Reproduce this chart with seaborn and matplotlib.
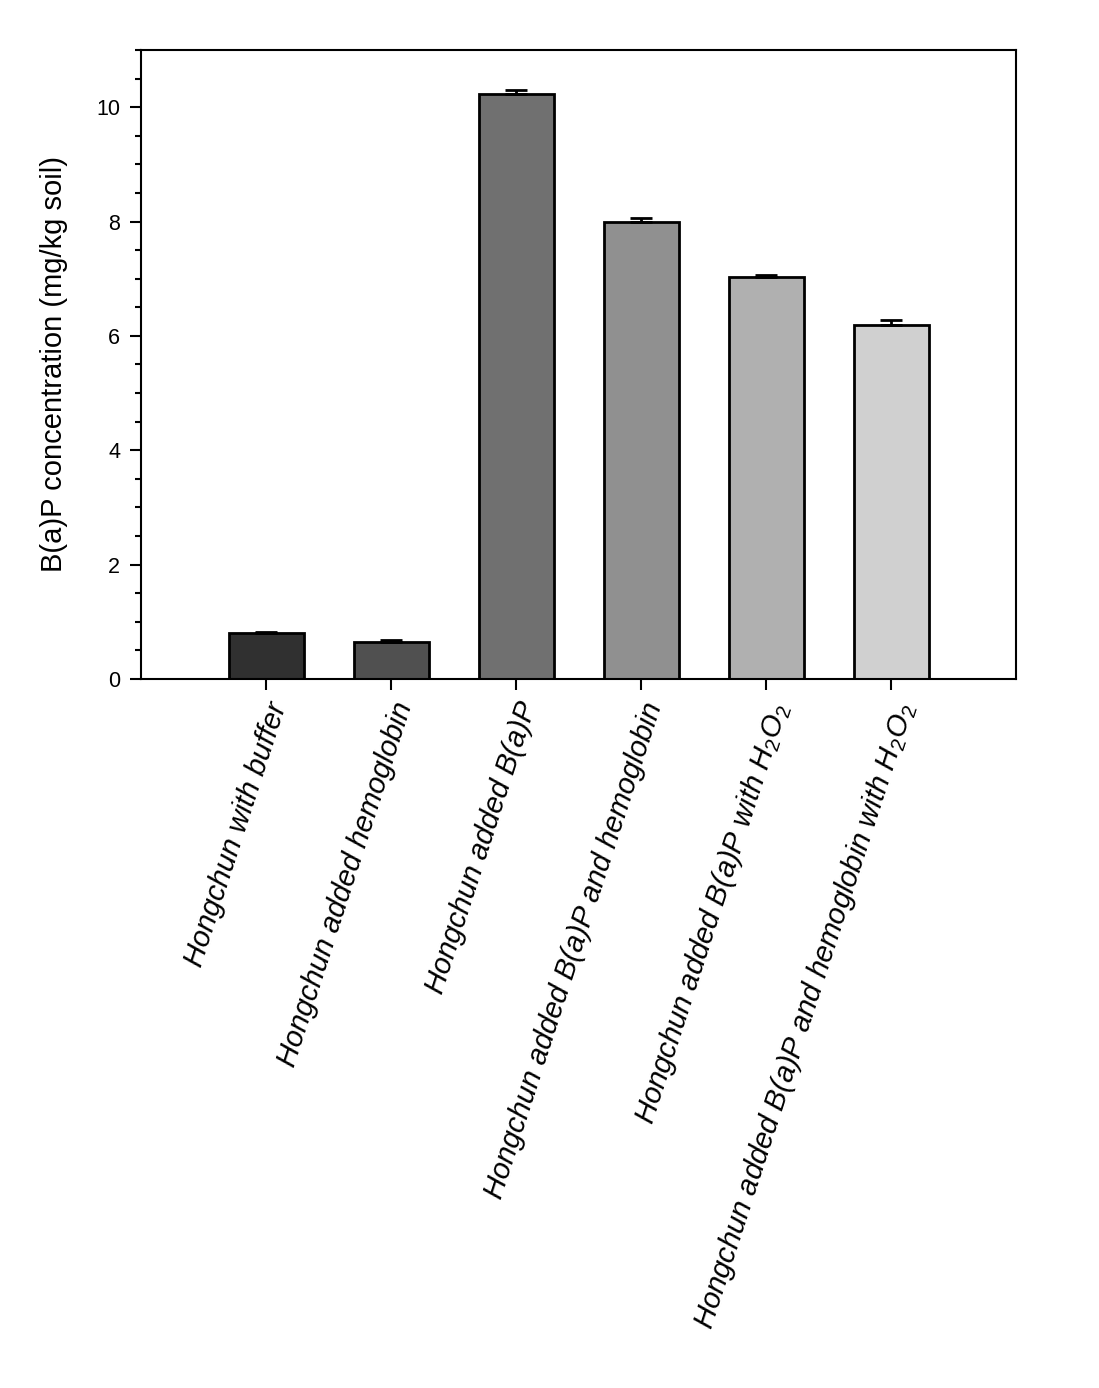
import matplotlib
matplotlib.use("Agg")
import matplotlib.pyplot as plt
import seaborn as sns
import pandas as pd
import numpy as np
from matplotlib.ticker import MultipleLocator

categories = [
    "Hongchun with buffer",
    "Hongchun added hemoglobin",
    "Hongchun added B(a)P",
    "Hongchun added B(a)P and hemoglobin",
    "Hongchun added B(a)P with H$_2$O$_2$",
    "Hongchun added B(a)P and hemoglobin with H$_2$O$_2$",
]
values = [0.80, 0.65, 10.23, 7.99, 7.03, 6.19]
errors = [0.03, 0.03, 0.07, 0.08, 0.03, 0.08]
colors = ["#303030", "#505050", "#707070", "#909090", "#b0b0b0", "#d0d0d0"]

sns.set_theme(style="white")
plt.rcParams["font.family"] = ["Liberation Sans", "DejaVu Sans"]
plt.rcParams["mathtext.fontset"] = "custom"
plt.rcParams["mathtext.rm"] = "Liberation Sans"
plt.rcParams["mathtext.it"] = "Liberation Sans:italic"
plt.rcParams["text.color"] = "black"
plt.rcParams["axes.labelcolor"] = "black"
plt.rcParams["xtick.color"] = "black"
plt.rcParams["ytick.color"] = "black"

df = pd.DataFrame({"cat": categories, "val": values})

fig = plt.figure(figsize=(10.99, 13.88), dpi=100)
ax = fig.add_axes([0.1283, 0.5108, 0.7962, 0.4532])

sns.barplot(data=df, x="cat", y="val", hue="cat", palette=colors, order=categories,
            hue_order=categories, width=0.6, edgecolor="black", linewidth=2,
            legend=False, errorbar=None, ax=ax, saturation=1)

xpos = np.arange(len(categories))
ax.errorbar(xpos, values, yerr=[np.zeros(len(values)), errors], fmt="none",
            ecolor="black", elinewidth=2, capsize=8, capthick=2, zorder=5)

ax.set_xlim(-1, 6)
ax.set_ylim(0, 11)
ax.yaxis.set_major_locator(MultipleLocator(2))
ax.yaxis.set_minor_locator(MultipleLocator(0.5))
ax.tick_params(axis="y", which="major", direction="out", length=8, width=1.5,
               labelsize=15.5, left=True, right=False, pad=7)
ax.tick_params(axis="y", which="minor", direction="out", length=4, width=1.5, left=True)
ax.tick_params(axis="x", which="major", direction="out", length=8, width=1.5,
               bottom=True, top=False, pad=6)

for s in ax.spines.values():
    s.set_visible(True)
    s.set_color("black")
    s.set_linewidth(1.5)

ax.set_xlabel("")
ax.set_ylabel("B(a)P concentration (mg/kg soil)", fontsize=21, labelpad=20)
ax.set_xticks(xpos)
ax.set_xticklabels(categories, rotation=72, ha="right", va="top",
                   rotation_mode="anchor", fontsize=21, fontstyle="italic")

fig.savefig("out.png", dpi=100)
